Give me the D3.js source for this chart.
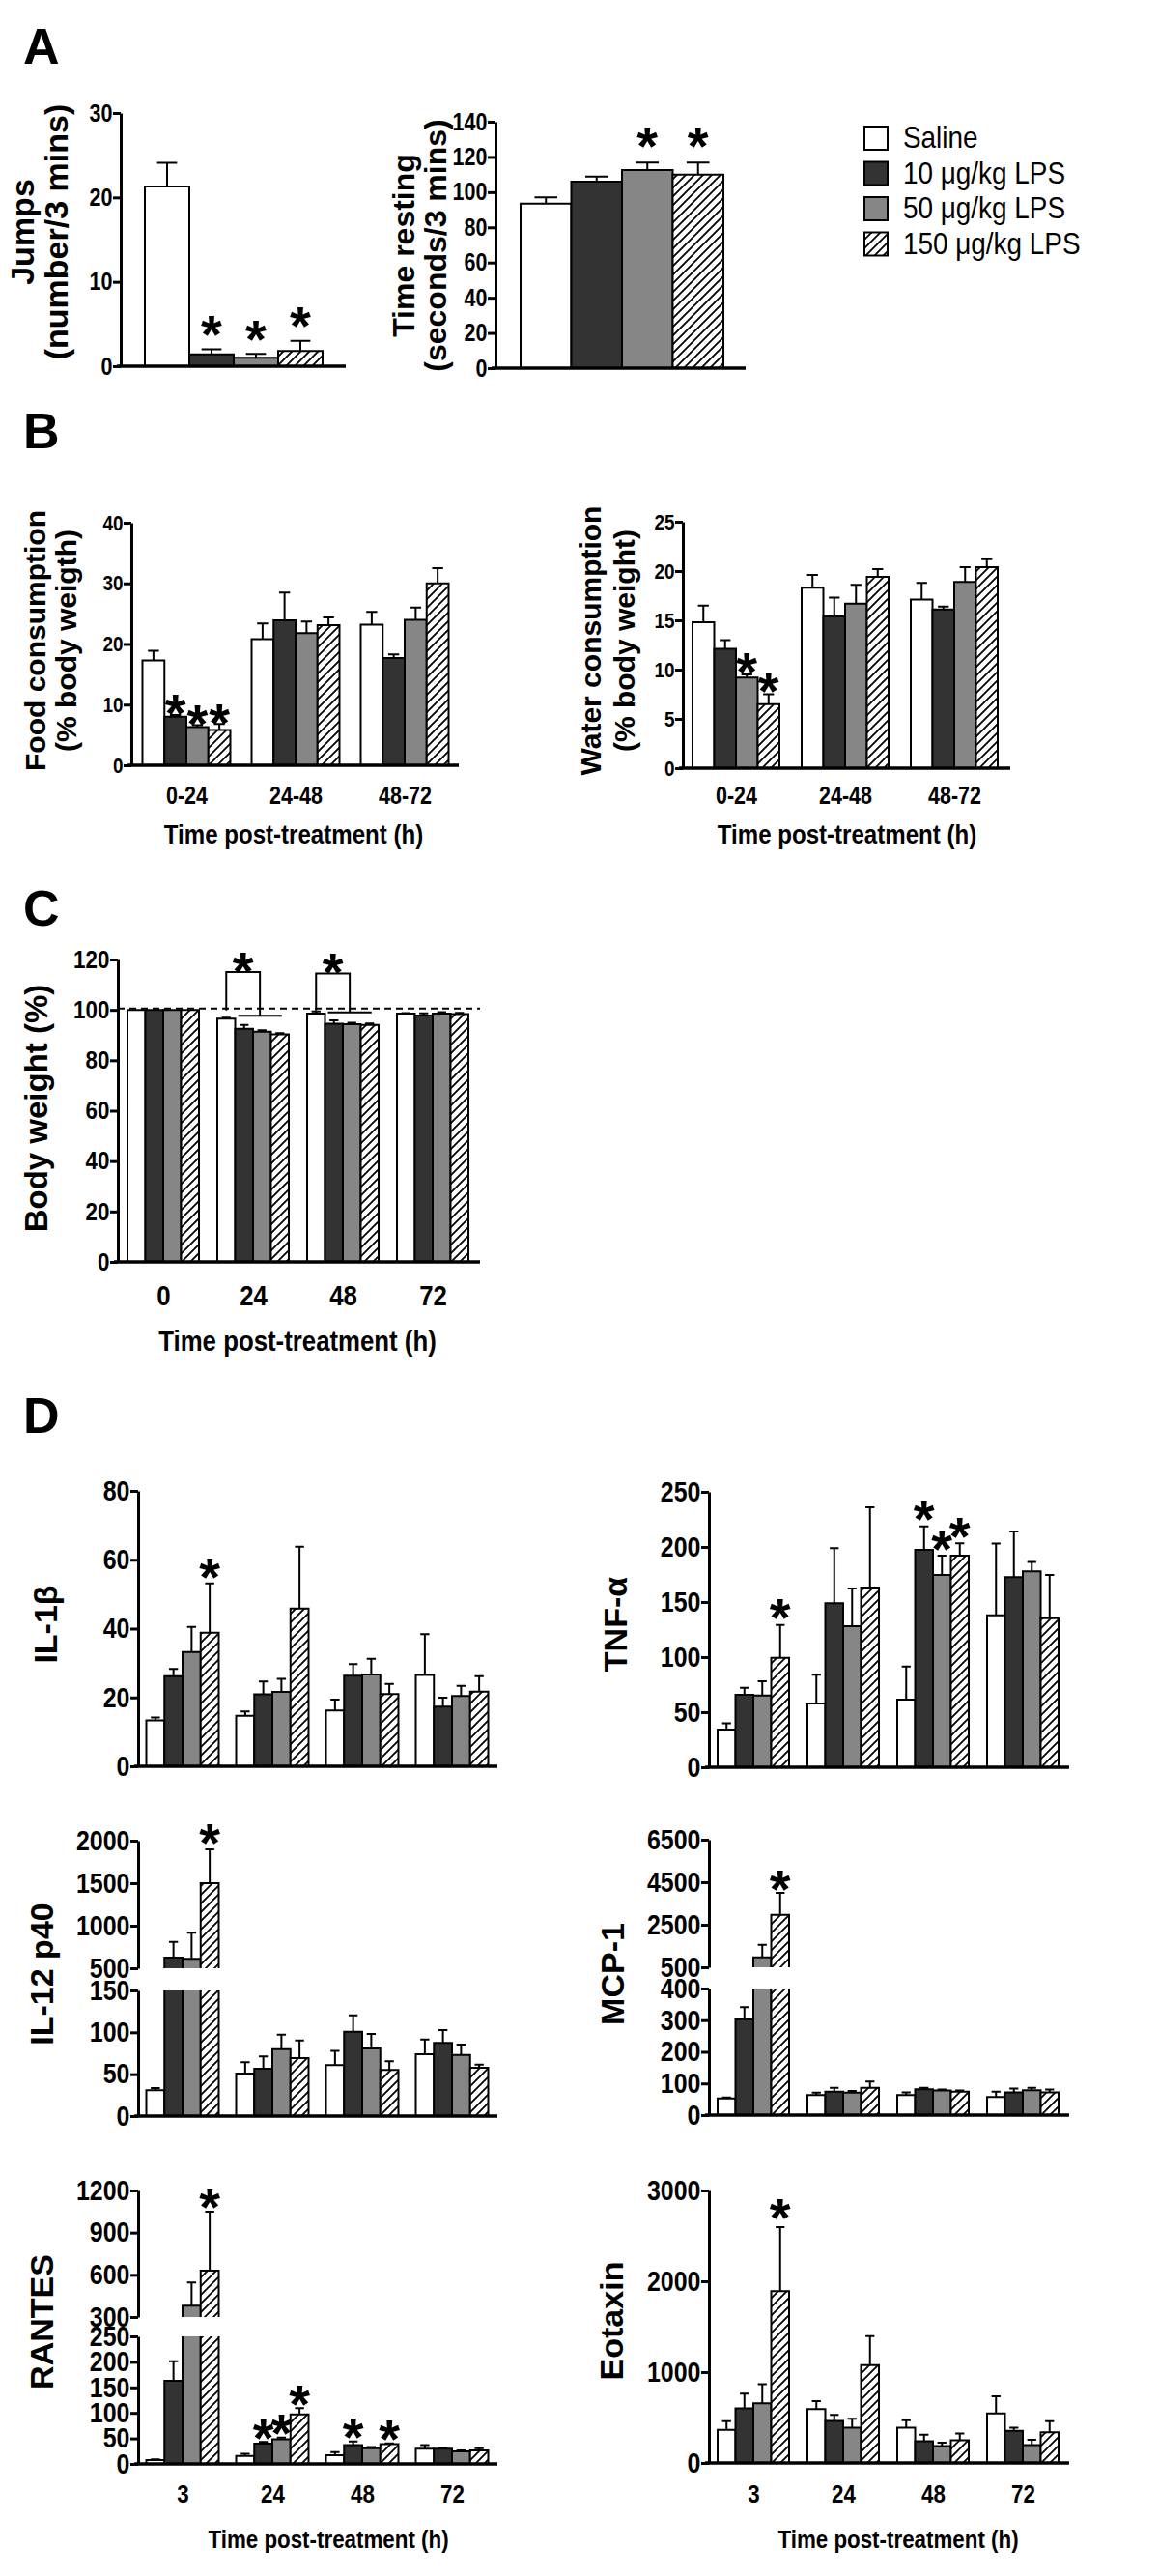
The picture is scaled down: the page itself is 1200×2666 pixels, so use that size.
<!DOCTYPE html>
<html>
<head>
<meta charset="utf-8">
<script src="https://cdn.jsdelivr.net/npm/d3@7"></script>
<style>
  body { margin: 0; background: #fff; }
  svg { display: block; }
</style>
</head>
<body>
<svg id="fig" width="1200" height="2666"></svg>
<script>
// ---------------- DATA ----------------
const groupNames = ["Saline", "10 μg/kg LPS", "50 μg/kg LPS", "150 μg/kg LPS"];
const groupFills = ["#ffffff", "#333333", "#868686", "url(#hatch)"];

// Panel A (single time point)
const jumpsMean = [21.3, 1.4, 1.0, 1.8];
const jumpsSem  = [2.8, 0.6, 0.45, 1.2];
const jumpsTicks = [0, 10, 20, 30];
const jumpsStars = [[0, 1], [0, 2], [0, 3]];

const restMean = [93.5, 106.0, 112.6, 110.0];
const restSem  = [3.5, 2.9, 4.2, 6.8];
const restTicks = [0, 20, 40, 60, 80, 100, 120, 140];
const restStars = [[0, 2], [0, 3]];

// Panel B (series x interval)
const intervals = ["0-24", "24-48", "48-72"];
const foodMean = [[17.3, 20.8, 23.2], [8.0, 23.9, 17.7], [6.3, 21.8, 24.0], [5.8, 23.1, 30.0]];
const foodSem  = [[1.6, 2.6, 2.1], [0.3, 4.6, 0.6], [0.3, 1.9, 2.0], [1.0, 1.3, 2.5]];
const foodTicks = [0, 10, 20, 30, 40];
const foodStars = [[0, 1], [0, 2], [0, 3]];

const waterMean = [[14.8, 18.3, 17.1], [12.1, 15.4, 16.1], [9.2, 16.7, 18.9], [6.5, 19.4, 20.4]];
const waterSem  = [[1.7, 1.3, 1.7], [0.9, 1.9, 0.3], [0.3, 1.9, 1.5], [1.0, 0.8, 0.8]];
const waterTicks = [0, 5, 10, 15, 20, 25];
const waterStars = [[0, 2], [0, 3]];

// Panel C
const weighTimes = ["0", "24", "48", "72"];
const weightMean = [[100, 96.5, 98.5, 98.5], [100, 92.5, 94.5, 97.8], [100, 91.3, 94.3, 98.5], [100, 90.3, 94.0, 98.3]];
const weightSem  = [[0, 0.4, 0.9, 0.2], [0, 1.5, 1.3, 0.8], [0, 0.6, 0.6, 0.6], [0, 0.5, 0.6, 0.5]];
const weightTicks = [0, 20, 40, 60, 80, 100, 120];
const bracketTimes = ["24", "48"];
const bracketTop = [115, 114.4];
const bracketLow = [97.7, 99.0];

// Panel D (series x time)
const cytoTimes = ["3", "24", "48", "72"];
const il1bMean = [[13.3, 14.7, 16.2, 26.5], [26.2, 20.9, 26.3, 17.3], [33.2, 21.6, 26.7, 20.4], [38.8, 45.8, 21.0, 21.7]];
const il1bSem  = [[0.9, 1.2, 3.2, 11.9], [2.1, 3.7, 3.4, 2.6], [7.3, 3.8, 4.5, 3.0], [14.3, 18.0, 2.9, 4.5]];
const il1bTicks = [0, 20, 40, 60, 80];
const il1bStars = [[0, 3]];

const tnfMean = [[34.2, 57.9, 61.4, 138.0], [65.8, 149.0, 197.4, 172.5], [65.2, 128.0, 174.6, 177.8], [99.4, 163.2, 192.1, 135.4]];
const tnfSem  = [[5.8, 26.0, 30.1, 65.0], [6.4, 49.8, 21.3, 41.5], [12.8, 34.3, 17.5, 8.7], [29.8, 72.8, 11.1, 39.2]];
const tnfTicks = [0, 50, 100, 150, 200, 250];
const tnfStars = [[0, 3], [2, 1], [2, 2], [2, 3]];

const il12Mean = [[30.8, 50.8, 60.8, 73.8], [625, 56.5, 100.8, 87.3], [610, 80.0, 80.8, 73.0], [1499, 69.2, 55.0, 57.7]];
const il12Sem  = [[2.7, 13.4, 17.2, 17.7], [186, 14.7, 19.6, 15.4], [308, 17.3, 17.2, 12.4], [399, 21.2, 10.4, 3.8]];
const il12LowTicks = [0, 50, 100, 150];
const il12HighTicks = [500, 1000, 1500, 2000];
const il12Stars = [[0, 3]];

const mcpMean = [[53, 63, 63, 57], [303, 74, 82, 72], [970, 71, 78, 79], [2970, 86.5, 74, 72]];
const mcpSem  = [[3, 8, 9, 17], [38, 12, 4, 12], [590, 5, 3, 7], [1030, 19.5, 4, 9]];
const mcpLowTicks = [0, 100, 200, 300, 400];
const mcpHighTicks = [500, 2500, 4500, 6500];
const mcpStars = [[0, 3]];

const rantesMean = [[7.5, 15.7, 17.0, 29.6], [163, 40, 37, 29.6], [381, 48.5, 31, 24.6], [630, 97, 39, 26.4]];
const rantesSem  = [[1.5, 4.3, 6.0, 7.4], [38, 3.0, 7.0, 1.4], [164, 3.1, 2.0, 1.8], [419, 12.6, 1.3, 4.6]];
const rantesLowTicks = [0, 50, 100, 150, 200, 250];
const rantesHighTicks = [300, 600, 900, 1200];
const rantesStars = [[0, 3], [1, 1], [1, 2], [1, 3], [2, 1], [2, 3]];

const eotaxinMean = [[364, 594, 389, 544], [600, 463, 240, 353], [657, 389, 187, 198], [1890, 1078, 251, 339]];
const eotaxinSem  = [[95, 88, 81, 191], [163, 67, 71, 36], [209, 99, 36, 56], [706, 318, 74, 120]];
const eotaxinTicks = [0, 1000, 2000, 3000];
const eotaxinStars = [[0, 3]];

// ---------------- DRAWING ----------------
const FONT = "'Liberation Sans', Arial, Helvetica, sans-serif";
const SX = 0.86;
const svg = d3.select("#fig");

const defs = svg.append("defs");
const pat = defs.append("pattern").attr("id", "hatch").attr("patternUnits", "userSpaceOnUse")
  .attr("width", 9).attr("height", 9);
pat.append("rect").attr("width", 9).attr("height", 9).attr("fill", "#fff");
pat.append("path").attr("d", "M0,9L9,0M-1,1L1,-1M8,10L10,8").attr("stroke", "#000").attr("stroke-width", 1.8);

function hText(g, x, y, t, fs, opt = {}) {
  return g.append("text")
    .attr("transform", `translate(${x},${y}) scale(${opt.sx || SX},1)`)
    .attr("text-anchor", opt.anchor || "middle")
    .attr("font-family", FONT)
    .attr("font-weight", opt.weight || "bold")
    .attr("font-size", fs)
    .attr("fill", "#000")
    .text(t);
}

function yLabel(g, lines, xs, cy, fs) {
  lines.forEach((t, i) => {
    g.append("text")
      .attr("transform", `translate(${xs[i]},${cy}) rotate(-90)`)
      .attr("text-anchor", "middle").attr("dy", "0.35em")
      .attr("font-family", FONT).attr("font-weight", "bold").attr("font-size", fs)
      .text(t);
  });
}

function barChart(o) {
  const g = svg.append("g");
  const xP = d3.scalePoint().domain(o.cats).range(o.centers);
  const inner = d3.scaleBand().domain(d3.range(4)).range([-o.groupW / 2, o.groupW / 2]);
  const segs = o.segs.map(s => ({ ...s, sc: d3.scaleLinear().domain(s.domain).range(s.range) }));
  const Y = v => {
    for (let i = segs.length - 1; i > 0; i--) if (v >= segs[i].domain[0]) return segs[i].sc(v);
    return segs[0].sc(v);
  };
  const baseY = segs[0].sc(0);
  const w = inner.bandwidth();

  // bars
  o.means.forEach((ser, si) => ser.forEach((v, ci) => {
    const x = xP(o.cats[ci]) + inner(si);
    segs.forEach((s, k) => {
      if (v <= s.domain[0] && k > 0) return;
      const last = k === segs.length - 1;
      const hi = last ? v : Math.min(v, s.domain[1]);
      const y1 = s.sc(hi), y0 = s.sc(s.domain[0]);
      g.append("rect").attr("x", x).attr("y", y1).attr("width", w).attr("height", Math.max(0, y0 - y1))
        .attr("fill", groupFills[si]);
      const closed = hi === v;
      g.append("path")
        .attr("d", closed ? `M${x},${y0}V${y1}H${x + w}V${y0}` : `M${x},${y0}V${y1}M${x + w},${y1}V${y0}`)
        .attr("fill", "none").attr("stroke", "#000").attr("stroke-width", 2);
    });
  }));

  // error bars
  const cw = w * (o.capFrac || 0.5);
  o.means.forEach((ser, si) => ser.forEach((v, ci) => {
    const sem = o.sems[si][ci];
    if (!sem) return;
    const cx = xP(o.cats[ci]) + inner(si) + w / 2;
    const yv = Y(v), ye = Y(v + sem);
    g.append("path").attr("d", `M${cx},${yv}V${ye}M${cx - cw / 2},${ye}H${cx + cw / 2}`)
      .attr("fill", "none").attr("stroke", "#000").attr("stroke-width", 2);
  }));

  // y axis segments
  segs.forEach(s => {
    const ax = d3.axisLeft(s.sc).tickValues(s.ticks).tickSize(8).tickSizeOuter(0).tickPadding(2)
      .tickFormat(d3.format("d"));
    const a = g.append("g").attr("transform", `translate(${o.axisX},0)`).call(ax);
    a.select(".domain").attr("stroke", "#000").attr("stroke-width", 3);
    a.selectAll(".tick line").attr("stroke", "#000").attr("stroke-width", 3);
    a.selectAll(".tick text").attr("font-family", FONT).attr("font-weight", "bold")
      .attr("font-size", o.yFS).attr("fill", "#000").attr("transform", `scale(${SX},1)`);
  });

  // baseline
  g.append("line").attr("x1", o.axisX - 4).attr("x2", o.endX).attr("y1", baseY).attr("y2", baseY)
    .attr("stroke", "#000").attr("stroke-width", 3.5);

  // x labels
  if (o.xLabelY) {
    const xa = g.append("g").attr("transform", `translate(0,${o.xLabelY})`)
      .call(d3.axisBottom(xP).tickSize(0).tickPadding(0));
    xa.select(".domain").remove();
    xa.selectAll(".tick text").attr("y", 0).attr("dy", 0).attr("font-family", FONT)
      .attr("font-weight", "bold").attr("font-size", o.xFS).attr("fill", "#000")
      .attr("transform", `scale(${SX},1)`);
  }
  if (o.title) hText(g, o.title[0], o.title[1], "Time post-treatment (h)", o.title[2]);

  // stars
  const sfs = o.starFS || 56;
  (o.stars || []).forEach(([ci, si]) => {
    const cx = xP(o.cats[ci]) + inner(si) + w / 2;
    const ye = Y(o.means[si][ci] + o.sems[si][ci]);
    g.append("text").attr("x", cx).attr("y", ye - o.starGap + 0.42 * sfs)
      .attr("text-anchor", "middle").attr("font-family", FONT).attr("font-weight", "bold")
      .attr("font-size", sfs).text("*");
  });
  return { g, xP, inner, Y, w };
}

const wrap1 = arr => arr.map(v => [v]);

// Panel letters
[["A", 66], ["B", 464], ["C", 958], ["D", 1483]].forEach(([t, y]) => {
  svg.append("text").attr("x", 24).attr("y", y).attr("font-family", FONT).attr("font-weight", "bold")
    .attr("font-size", 52).text(t);
});

// ---- A left: Jumps
barChart({ axisX: 125, endX: 358, cats: [""], centers: [242, 242], groupW: 184,
  segs: [{ domain: [0, 30], range: [379, 117], ticks: jumpsTicks }],
  means: wrap1(jumpsMean), sems: wrap1(jumpsSem), stars: jumpsStars, starGap: 20, yFS: 25, capFrac: 0.45 });
yLabel(svg, ["Jumps", "(number/3 mins)"], [23, 58], 240, 34);

// ---- A right: Time resting
barChart({ axisX: 513, endX: 772, cats: [""], centers: [644, 644], groupW: 210,
  segs: [{ domain: [0, 140], range: [381, 126], ticks: restTicks }],
  means: wrap1(restMean), sems: wrap1(restSem), stars: restStars, starGap: 22, yFS: 25, capFrac: 0.45 });
yLabel(svg, ["Time resting", "(seconds/3 mins)"], [418, 451], 254, 32);

// legend
const lg = svg.append("g").attr("transform", "translate(895,131)");
groupNames.forEach((n, i) => {
  lg.append("rect").attr("x", 0).attr("y", i * 36.5).attr("width", 24).attr("height", 24)
    .attr("fill", groupFills[i]).attr("stroke", "#000").attr("stroke-width", 2);
  hText(lg, 40, i * 36.5 + 22, n, 31, { anchor: "start", weight: "normal", sx: 0.9 });
});

// ---- B left: Food
barChart({ axisX: 136, endX: 475, cats: intervals, centers: [193, 419], groupW: 91,
  segs: [{ domain: [0, 40], range: [792, 541], ticks: foodTicks }],
  means: foodMean, sems: foodSem, stars: foodStars, starGap: 6, yFS: 22,
  xLabelY: 832, xFS: 25, title: [304, 873, 28] });
yLabel(svg, ["Food consumption", "(% body weigth)"], [36, 68], 663, 30);

// ---- B right: Water
barChart({ axisX: 707, endX: 1046, cats: intervals, centers: [762, 988], groupW: 90,
  segs: [{ domain: [0, 25], range: [795, 540], ticks: waterTicks }],
  means: waterMean, sems: waterSem, stars: waterStars, starGap: 8, yFS: 22,
  xLabelY: 832, xFS: 25, title: [877, 873, 28] });
yLabel(svg, ["Water consumption", "(% body weight)"], [611, 646], 663, 30);

// ---- C: Body weight
const C = barChart({ axisX: 122, endX: 497, cats: weighTimes, centers: [169, 448], groupW: 74,
  segs: [{ domain: [0, 120], range: [1306, 993], ticks: weightTicks }],
  means: weightMean, sems: weightSem, stars: [], starGap: 6, yFS: 26,
  xLabelY: 1351, xFS: 30, title: [308, 1398, 30] });
yLabel(svg, ["Body weight (%)"], [37], 1147, 33);
// dashed reference line
C.g.append("line").attr("x1", 122).attr("x2", 497).attr("y1", C.Y(100.5)).attr("y2", C.Y(100.5))
  .attr("stroke", "#000").attr("stroke-width", 2).attr("stroke-dasharray", "7,5");
// significance brackets
bracketTimes.forEach((t, i) => {
  const gx = C.xP(t);
  const xl = gx + C.inner(0) + C.w / 2;
  const lineX1 = gx + C.inner(1) + 3, lineX2 = gx + C.inner(3) + C.w / 2 + 2;
  const xr = (lineX1 + lineX2) / 2;
  const yt = C.Y(bracketTop[i]), yl = C.Y(bracketLow[i]);
  C.g.append("path").attr("d", `M${xl},${C.Y(99.8)}V${yt}H${xr}V${yl}M${lineX1},${yl}H${lineX2}`)
    .attr("fill", "none").attr("stroke", "#000").attr("stroke-width", 2);
  C.g.append("text").attr("x", (xl + xr) / 2).attr("y", yt - 6 + 0.42 * 56).attr("text-anchor", "middle")
    .attr("font-family", FONT).attr("font-weight", "bold").attr("font-size", 56).text("*");
});

// ---- D
barChart({ axisX: 143, endX: 515, cats: cytoTimes, centers: [189, 468], groupW: 75,
  segs: [{ domain: [0, 80], range: [1828, 1543], ticks: il1bTicks }],
  means: il1bMean, sems: il1bSem, stars: il1bStars, starGap: 11, yFS: 29 });
yLabel(svg, ["IL-1β"], [47], 1681, 34);

barChart({ axisX: 734, endX: 1107, cats: cytoTimes, centers: [780, 1059], groupW: 74,
  segs: [{ domain: [0, 250], range: [1829, 1544], ticks: tnfTicks }],
  means: tnfMean, sems: tnfSem, stars: tnfStars, starGap: 12, yFS: 29 });
yLabel(svg, ["TNF-α"], [637], 1681, 34);

barChart({ axisX: 143, endX: 515, cats: cytoTimes, centers: [189, 468], groupW: 75,
  segs: [{ domain: [0, 150], range: [2190, 2060], ticks: il12LowTicks },
         { domain: [500, 2000], range: [2037, 1905], ticks: il12HighTicks }],
  means: il12Mean, sems: il12Sem, stars: il12Stars, starGap: 11, yFS: 29 });
yLabel(svg, ["IL-12 p40"], [43], 2043, 34);

barChart({ axisX: 734, endX: 1107, cats: cytoTimes, centers: [780, 1059], groupW: 74,
  segs: [{ domain: [0, 400], range: [2189, 2058], ticks: mcpLowTicks },
         { domain: [500, 6500], range: [2036, 1904], ticks: mcpHighTicks }],
  means: mcpMean, sems: mcpSem, stars: mcpStars, starGap: 9, yFS: 29 });
yLabel(svg, ["MCP-1"], [634], 2043, 34);

barChart({ axisX: 143, endX: 515, cats: cytoTimes, centers: [189, 468], groupW: 75,
  segs: [{ domain: [0, 250], range: [2550, 2418], ticks: rantesLowTicks },
         { domain: [300, 1200], range: [2398, 2267], ticks: rantesHighTicks }],
  means: rantesMean, sems: rantesSem, stars: rantesStars, starGap: 9, yFS: 29,
  xLabelY: 2590, xFS: 26, title: [340, 2637, 26] });
yLabel(svg, ["RANTES"], [43], 2403, 34);

barChart({ axisX: 734, endX: 1107, cats: cytoTimes, centers: [780, 1059], groupW: 74,
  segs: [{ domain: [0, 3000], range: [2549, 2267], ticks: eotaxinTicks }],
  means: eotaxinMean, sems: eotaxinSem, stars: eotaxinStars, starGap: 14, yFS: 29,
  xLabelY: 2590, xFS: 26, title: [930, 2637, 26] });
yLabel(svg, ["Eotaxin"], [633], 2402, 34);
</script>
</body>
</html>
